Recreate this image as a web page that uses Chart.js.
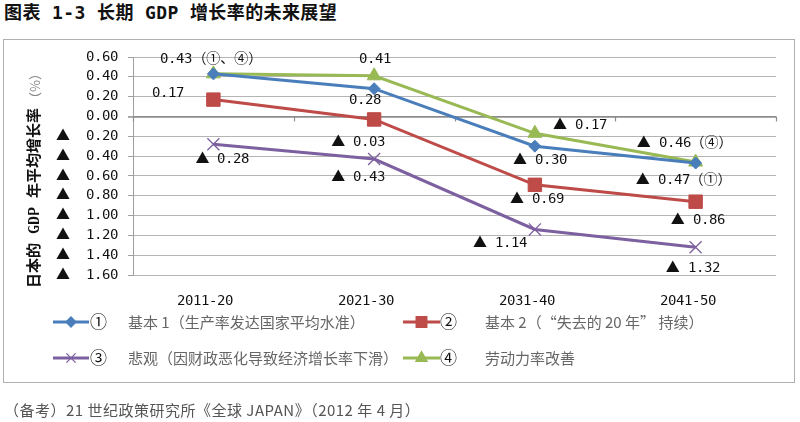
<!DOCTYPE html>
<html><head><meta charset="utf-8">
<script src="https://cdn.jsdelivr.net/npm/chart.js@4.4.0/dist/chart.umd.min.js"></script>
<style>
@font-face{font-family:'MixMono';src:local('DejaVu Sans Mono'),local('DejaVuSansMono');unicode-range:U+0000-00FF;font-weight:400;}
@font-face{font-family:'MixMono';src:local('DejaVu Sans Mono Bold'),local('DejaVuSansMono-Bold');unicode-range:U+0000-00FF;font-weight:700;}
html,body{margin:0;padding:0;background:#fff;}
#wrap{position:relative;width:800px;height:422px;overflow:hidden;background:#fff;}
#title{position:absolute;left:4px;top:2px;font:bold 18px 'DejaVu Sans Mono','Noto Sans CJK SC',sans-serif;color:#111;white-space:nowrap;line-height:22px;letter-spacing:0.4px;}
#box{position:absolute;left:3px;top:39px;width:790px;height:342px;border:1px solid #b0b0b0;}
#c{position:absolute;left:0;top:0;}
#note{position:absolute;left:4px;top:400px;font:15px 'Noto Sans CJK SC',sans-serif;color:#555;white-space:nowrap;line-height:20px;letter-spacing:0.5px;}
</style></head>
<body><div id="wrap">
<div id="title">图表 1-3 长期 GDP 增长率的未来展望</div>
<div id="box"></div>
<canvas id="c" width="800" height="422"></canvas>
<div id="note">（备考）21 世纪政策研究所《全球 JAPAN》（2012 年 4 月）</div>
</div>
<script>
// ---- data ----
const categories = ['2011-20', '2021-30', '2031-40', '2041-50'];
const seriesMarks = ['①', '②', '③', '④'];
const seriesNames = [
  '基本 1（生产率发达国家平均水准）',
  '基本 2（“失去的 20 年” 持续）',
  '悲观（因财政恶化导致经济增长率下滑）',
  '劳动力率改善'
];
const base1 = [0.43, 0.28, -0.30, -0.47];
const base2 = [0.17, -0.03, -0.69, -0.86];
const pessimistic = [-0.28, -0.43, -1.14, -1.32];
const labour = [0.43, 0.41, -0.17, -0.46];
const yMin = -1.6, yMax = 0.6, yStep = 0.2;
const yTitle = '日本的 GDP 年平均增长率';
const yUnit = '（%）';
// value notes: [series, category, suffix]
const pointNotes = [
  [0,0,'（①、④）'], [1,0,''], [2,0,''],
  [3,1,''], [0,1,''], [1,1,''], [2,1,''],
  [3,2,''], [0,2,''], [1,2,''], [2,2,''],
  [3,3,'（④）'], [0,3,'（①）'], [1,3,''], [2,3,'']
];

// ---- styles ----
const noteOffsets = [
  [-53,-14.5], [-61,-6], [-18,15],
  [-15,-16.5], [-25,11.6], [-43,23], [-43,18],
  [18,-8], [-22,14], [-25,15], [-62,14],
  [-59,-19], [-60,17], [-25,19], [-30,21]
];
const colors = ['#4A7EBB', '#BE4B48', '#7D60A0', '#98B954'];
const pStyles = ['rectRot', 'rect', 'crossRot', 'triangle'];
const pRadius = [6, 9.5, 8.5, 8];
const monoFont = "MixMono, 'Noto Sans CJK JP', sans-serif";
const cjkFont = "'Noto Sans CJK SC', sans-serif";

const allSeries = [base1, base2, pessimistic, labour];
const fmt = v => (v < 0 ? '▲ ' + Math.abs(v).toFixed(2) : v.toFixed(2));

const zeroTicks = {
  id: 'zeroTicks',
  beforeDatasetsDraw(chart) {
    const {ctx, chartArea} = chart;
    const x = chart.scales.x, y = chart.scales.y;
    const y0 = y.getPixelForValue(0);
    const n = categories.length;
    ctx.save();
    ctx.strokeStyle = '#8c8c8c';
    ctx.lineWidth = 1.2;
    for (let i = 0; i <= n; i++) {
      let px;
      if (i === 0) px = chartArea.left;
      else if (i === n) px = chartArea.right;
      else px = (x.getPixelForValue(i - 1) + x.getPixelForValue(i)) / 2;
      ctx.beginPath();
      ctx.moveTo(Math.round(px) + 0.5, y0);
      ctx.lineTo(Math.round(px) + 0.5, y0 + 5);
      ctx.stroke();
    }
    ctx.restore();
  }
};

const notes = {
  id: 'notes',
  afterDatasetsDraw(chart) {
    const ctx = chart.ctx;
    ctx.save();
    ctx.font = '14px ' + monoFont;
    ctx.fillStyle = '#111';
    ctx.textAlign = 'left';
    ctx.textBaseline = 'middle';
    pointNotes.forEach((n, i) => {
      const el = chart.getDatasetMeta(n[0]).data[n[1]];
      const v = allSeries[n[0]][n[1]];
      ctx.fillText(fmt(v) + n[2], el.x + noteOffsets[i][0], el.y + noteOffsets[i][1]);
    });
    ctx.restore();
  }
};

const yTitlePlugin = {
  id: 'yTitlePlugin',
  afterDraw(chart) {
    const ctx = chart.ctx;
    ctx.save();
    ctx.translate(35, 288);
    ctx.rotate(-Math.PI / 2);
    ctx.textAlign = 'left';
    ctx.textBaseline = 'middle';
    ctx.font = 'bold 15px ' + monoFont;
    ctx.fillStyle = '#111';
    ctx.fillText(yTitle, 0, 0);
    const w = ctx.measureText(yTitle).width;
    ctx.font = '13px ' + cjkFont;
    ctx.fillStyle = '#888';
    ctx.fillText(yUnit, w + 3, 0);
    ctx.restore();
  }
};

const legendPlugin = {
  id: 'legendPlugin',
  afterDraw(chart) {
    const ctx = chart.ctx;
    const rows = [322, 358];
    const cols = [{l0: 53, l1: 89, m: 90, t: 128}, {l0: 403, l1: 440, m: 440, t: 485}];
    const legR = [5, 7.5, 6.5, 6.5];
    for (let i = 0; i < 4; i++) {
      const r = rows[Math.floor(i / 2)], c = cols[i % 2];
      ctx.save();
      ctx.strokeStyle = colors[i];
      ctx.fillStyle = colors[i];
      ctx.lineWidth = 3;
      ctx.beginPath();
      ctx.moveTo(c.l0, r);
      ctx.lineTo(c.l1, r);
      ctx.stroke();
      ctx.lineWidth = 1.3;
      Chart.helpers.drawPoint(ctx, {pointStyle: pStyles[i], radius: legR[i], borderWidth: 1.3, rotation: 0}, (c.l0 + c.l1) / 2, r);
      ctx.restore();
      ctx.save();
      ctx.textBaseline = 'middle';
      ctx.textAlign = 'left';
      ctx.font = '17px ' + cjkFont;
      ctx.fillStyle = '#111';
      ctx.fillText(seriesMarks[i], c.m, r);
      ctx.font = '15px ' + cjkFont;
      ctx.fillStyle = '#666';
      ctx.fillText(seriesNames[i], c.t, r);
      ctx.restore();
    }
  }
};

function draw() {
  new Chart(document.getElementById('c'), {
    type: 'line',
    data: {
      labels: categories,
      datasets: allSeries.map((d, i) => ({
        label: seriesMarks[i] + ' ' + seriesNames[i],
        data: d,
        borderColor: colors[i],
        backgroundColor: colors[i],
        borderWidth: 3,
        pointStyle: pStyles[i],
        pointRadius: pRadius[i],
        pointBorderWidth: i === 2 ? 1.3 : 1,
        pointBackgroundColor: colors[i],
        pointBorderColor: colors[i],
        tension: 0,
        fill: false
      }))
    },
    options: {
      responsive: false,
      animation: false,
      devicePixelRatio: 1,
      layout: {padding: {top: 57, right: 24, bottom: 100, left: 0}},
      plugins: {legend: {display: false}, tooltip: {enabled: false}, title: {display: false}},
      scales: {
        x: {
          type: 'category',
          offset: true,
          grid: {display: false},
          border: {display: false},
          ticks: {color: '#111', font: {family: monoFont, size: 14}, padding: 10, maxRotation: 0, labelOffset: -8},
          afterFit(s) { s.height = 47; }
        },
        y: {
          min: yMin, max: yMax,
          ticks: {
            stepSize: yStep,
            color: '#111',
            padding: 10,
            font: {family: monoFont, size: 14},
            callback: v => (Math.abs(v) < 1e-9 ? '0.00' : (v < 0 ? '▲  ' + (-v).toFixed(2) : v.toFixed(2)))
          },
          grid: {
            color: c => (c.tick && Math.abs(c.tick.value) < 1e-9 ? '#8c8c8c' : '#b4b4b4'),
            lineWidth: c => (c.tick && Math.abs(c.tick.value) < 1e-9 ? 1.8 : 1),
            tickLength: 5,
            tickColor: '#a0a0a0'
          },
          border: {display: true, color: '#a0a0a0', width: 1},
          afterFit(s) { s.width = 133; }
        }
      }
    },
    plugins: [zeroTicks, notes, yTitlePlugin, legendPlugin]
  });
}

Promise.all([
  document.fonts.load('14px MixMono', '0.5'),
  document.fonts.load('bold 15px MixMono', 'GDP')
]).then(draw, draw);
</script>
</body></html>
